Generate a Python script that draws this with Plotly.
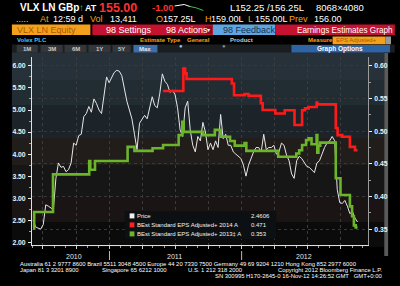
import plotly.graph_objects as go
import pandas as pd

# ---------------- data ----------------
price_start = "2010-06-04"
price_values = [2.50, 2.35, 2.32, 2.30, 2.40, 2.85, 2.82, 2.78, 2.74, 3.45,
                3.80, 3.70, 3.72, 3.60, 3.65, 3.80, 4.25, 4.20, 4.42, 4.45,
                4.85, 4.92, 5.08, 4.95, 5.25, 5.15, 5.00, 4.92, 5.40, 5.75,
                5.62, 5.75, 5.85, 5.90, 5.88, 5.78, 5.45, 5.20, 5.00, 4.80,
                4.45, 4.10, 4.70, 4.80, 4.88, 4.80, 5.05, 5.30, 5.10, 5.05,
                5.38, 5.82, 5.65, 5.58, 5.40, 5.45, 5.35, 5.05, 4.55, 4.40,
                5.05, 5.20, 4.55, 4.20, 4.05, 4.40, 4.30, 4.72, 4.50, 4.10,
                4.25, 4.10, 4.30, 4.15, 4.90, 4.35, 4.45, 4.20, 4.20, 4.05,
                4.00, 3.95, 3.90, 3.75, 3.50, 3.75, 3.90, 4.05, 4.15, 4.15,
                4.05, 4.45, 4.10, 4.15, 4.15, 4.20, 4.00, 4.05, 4.25, 4.20,
                3.98, 3.85, 3.55, 3.45, 3.85, 3.95, 3.90, 3.80, 3.72, 3.70,
                3.65, 3.58, 3.80, 3.85, 4.00, 4.15, 4.25, 4.30, 4.40, 4.30,
                3.20, 2.90, 2.88, 2.95, 2.82, 2.65, 2.70, 2.55, 2.4606]
price_dates = pd.date_range(price_start, periods=len(price_values), freq="7D")

eps2014_dates = ["2011-05-29", "2011-07-24", "2011-07-29", "2011-08-02", "2011-12-05",
                 "2011-12-11", "2012-01-09", "2012-01-20", "2012-02-23", "2012-02-28",
                 "2012-04-03", "2012-04-29", "2012-05-26", "2012-06-16", "2012-06-24",
                 "2012-07-04", "2012-07-26", "2012-07-28", "2012-09-17", "2012-09-22",
                 "2012-10-05", "2012-10-26", "2012-11-09", "2012-11-16"]
eps2014_values = [0.5614, 0.596, 0.5885, 0.5798, 0.573, 0.555, 0.557, 0.554, 0.5427, 0.5324,
                  0.527, 0.532, 0.5095, 0.532, 0.535, 0.537, 0.544, 0.541, 0.505, 0.494,
                  0.4916, 0.476, 0.471, 0.471]

eps2013_dates = ["2010-06-04", "2010-06-07", "2010-07-29", "2010-11-06", "2010-11-09",
                 "2010-11-22", "2011-02-20", "2011-03-11", "2011-04-30", "2011-05-29",
                 "2011-07-11", "2011-07-21", "2011-07-25", "2011-09-17", "2011-10-19",
                 "2011-11-04", "2011-11-30", "2011-12-13", "2012-01-09", "2012-01-14",
                 "2012-04-11", "2012-05-31", "2012-06-08", "2012-06-16", "2012-06-27",
                 "2012-07-04", "2012-07-12", "2012-07-26", "2012-07-28", "2012-07-31",
                 "2012-08-05", "2012-09-17", "2012-09-30", "2012-10-26", "2012-11-01",
                 "2012-11-06", "2012-11-11", "2012-11-16"]
eps2013_values = [0.3515, 0.3765, 0.434, 0.4545, 0.441, 0.4545, 0.476, 0.470, 0.474, 0.479,
                  0.494, 0.5145, 0.499, 0.494, 0.502, 0.4916, 0.485, 0.478, 0.482, 0.470,
                  0.461, 0.466, 0.471, 0.479, 0.4866, 0.489, 0.480, 0.494, 0.467, 0.478,
                  0.4825, 0.428, 0.4025, 0.385, 0.370, 0.356, 0.353, 0.353]

year_labels = ["2010", "2011", "2012"]
year_label_dates = ["2010-09-24", "2011-06-30", "2012-06-21"]
year_breaks = ["2011-01-01", "2012-01-01"]
quarter_ticks = ["2010-07-01", "2010-10-01", "2011-01-01", "2011-04-01", "2011-07-01",
                 "2011-10-01", "2012-01-01", "2012-04-01", "2012-07-01", "2012-10-01"]

legend_rows = [("Price", "2.4606", "#f0f0f0"),
               ("BEst Standard EPS Adjusted+ 2014 A", "0.471", "#ff1f1f"),
               ("BEst Standard EPS Adjusted+ 2013\u2021 A", "0.353", "#6cb52a")]

# ---------------- geometry helpers (pixel -> paper) ----------------
W, H = 400, 286
L, R, T, B = 21, 28, 57, 41
PW, PH = W - L - R, H - T - B


def X(px):
    return (px - L) / PW


def Y(py):
    return (H - B - py) / PH


SANS = "Liberation Sans"
ORANGE = "#f7a11a"
shapes = []
anns = []


def rect(x0, y0, x1, y1, color, layer="above", line=None):
    shapes.append(dict(type="rect", xref="paper", yref="paper", x0=X(x0), x1=X(x1),
                       y0=Y(y1), y1=Y(y0), fillcolor=color, layer=layer,
                       line=dict(width=0) if line is None else line))


def txt(s, x, y, color, size, anchor="left", bold=False, family=SANS):
    anns.append(dict(text=s, x=X(x), y=Y(y), xref="paper", yref="paper",
                     xanchor=anchor, yanchor="middle", showarrow=False, borderpad=0,
                     font=dict(color=color, size=size, family=family,
                               weight="bold" if bold else "normal")))


# ---------------- chart panel background bands ----------------
bands = [(52, 80, "#263139"), (80, 105, "#222c33"), (105, 138, "#1c242a"),
         (138, 165, "#211d1b"), (165, 197, "#161616"), (197, 222, "#1b1414"),
         (222, 247, "#0b0b0b")]
for y0, y1, c in bands:
    rect(0, y0, 389, y1, c, layer="below")
# right scroll strip
rect(389, 53, 393, 256, "#5a5a5a", layer="below")

# ---------------- header ----------------
# row 1
txt("VLX LN GBp", 7, 8, "#ffffff", 10, bold=True)
txt("\u2191", 69, 8, "#38c838", 10, bold=True)
txt("AT", 75, 8, "#ffffff", 9, bold=True)
txt("155.00", 90, 8, "#ff3030", 12.5, bold=True)
txt("-1.00", 145, 8, "#ff3030", 9.5, bold=True)
txt("L152.25 /156.25L", 227, 8, "#ffffff", 9.5)
txt("8068\u00d74080", 317, 8, "#ffffff", 9.5)
spark = "M %f,%f L %f,%f L %f,%f" % (X(170), Y(6), X(180), Y(4.5), X(186), Y(6.5))
shapes.append(dict(type="path", xref="paper", yref="paper", path=spark,
                   line=dict(color="#ffffff", width=1)))
spark2 = "M %f,%f L %f,%f L %f,%f" % (X(186), Y(6.5), X(193), Y(8), X(200), Y(10.5))
shapes.append(dict(type="path", xref="paper", yref="paper", path=spark2,
                   line=dict(color="#38c838", width=1)))
# row 2
for s, x, c in [(".....", 3, "#cccccc"), ("At", 28, ORANGE), ("12:59 d", 42, "#ffffff"),
                ("Vol", 81, ORANGE), ("13,411", 101, "#ffffff"), ("O", 149, ORANGE),
                ("157.25L", 157, "#ffffff"), ("H", 201, ORANGE), ("159.00L", 207, "#ffffff"),
                ("L", 246, ORANGE), ("155.00L", 253, "#ffffff"), ("Prev", 288, ORANGE),
                ("156.00", 315, "#ffffff")]:
    txt(s, x, 19, c, 9)
# row 3 bars
rect(0, 24.5, 82, 35, "#f5a01a")
txt("VLX LN Equity", 4, 30, "#a85a08", 9)
rect(84, 24.5, 210, 35, "#c41230")
rect(202, 26, 209, 34, "#8e0c22")
txt("\u25be", 205.5, 30, "#ffffff", 6, anchor="center")
txt("98 Settings", 97, 30, "#ffffff", 9)
txt("98 Actions", 160, 30, "#ffffff", 9)
rect(210, 24.5, 275, 35, "#5ea6e2")
txt("98 Feedback", 220, 30, "#16324f", 9)
rect(275, 24.5, 400, 35, "#c41230")
txt("Earnings Estimates Graph", 297, 30, "#ffffff", 8.2)
# row 4
txt("Volex PLC", 4, 40.5, "#55c2e6", 6, bold=True)
txt("Estimate Type", 133, 40.5, ORANGE, 6, bold=True)
anns.append(dict(text="\u25cf", x=X(177), y=Y(40.5), xref="paper", yref="paper",
                 showarrow=False, font=dict(color="#8fc8ff", size=6)))
txt("General", 182, 40.5, ORANGE, 6, bold=True)
anns.append(dict(text="\u25cf", x=X(222), y=Y(40.5), xref="paper", yref="paper",
                 showarrow=False, font=dict(color="#888888", size=6)))
txt("Product", 227, 40.5, "#c8c8c8", 6, bold=True)
txt("Measure", 308, 40.5, ORANGE, 6, bold=True)
rect(335, 36.5, 390, 44.5, "#f5a01a")
txt("EPS Adjusted+", 338, 40.5, "#a85a08", 6)
rect(390, 36.5, 396, 44.5, "#9a9a9a")
# row 5
rect(0, 44.5, 400, 52.5, "#1b1e21")
for lab, x0, x1 in [("1M", 5, 27), ("3M", 30, 53), ("6M", 55, 78), ("1Y", 80, 103),
                    ("5Y", 105, 124)]:
    rect(x0, 45, x1, 52.5, "#33373b")
    txt(lab, (x0 + x1) / 2, 48.8, "#c8c8c8", 6, anchor="center", bold=True)
rect(127, 45, 152, 52.5, "#3c6ea8")
txt("Max", 139.5, 48.8, "#e8e8e8", 6, anchor="center", bold=True)
rect(292, 45, 395, 52.5, "#2e63a4")
txt("Graph Options", 343, 48.8, "#ffffff", 6.5, anchor="center", bold=True)

# ---------------- legend box ----------------
rect(118, 211, 276, 239, "#0d1013")
for i, (name, val, col) in enumerate(legend_rows):
    yy = 216 + 9 * i
    rect(123, yy - 2.6, 128, yy + 2.4, col)
    txt(name, 130, yy, "#f2f2f2", 6.0)
    txt(val, 249, yy, "#f2f2f2", 6.0)

# ---------------- x axis labels & year breaks ----------------
for lab, d in zip(year_labels, year_label_dates):
    anns.append(dict(text=lab, x=d, xref="x", y=Y(256), yref="paper", showarrow=False,
                     yanchor="middle", font=dict(color="#e8e8e8", size=7, family=SANS)))
for d in year_breaks:
    shapes.append(dict(type="line", xref="x", yref="paper", x0=d, x1=d,
                       y0=Y(251), y1=Y(260), line=dict(color="#bbbbbb", width=1)))

# ---------------- footer ----------------
txt("Australia 61 2 9777 8600 Brazil 5511 3048 4500 Europe 44 20 7330 7500 "
    "Germany 49 69 9204 1210 Hong Kong 852 2977 6000", 7, 264, "#ffffff", 5.9)
txt("Japan 81 3 3201 8900", 7, 270, "#ffffff", 5.9)
txt("Singapore 65 6212 1000", 93, 270, "#ffffff", 5.9)
txt("U.S. 1 212 318 2000", 183, 270, "#ffffff", 5.9)
txt("Copyright 2012 Bloomberg Finance L.P.", 388, 270, "#ffffff", 5.9, anchor="right")
txt("SN 300995 H170-2645-0 16-Nov-12 14:26:52 GMT   GMT+0:00", 388, 276, "#ffffff", 5.9,
    anchor="right")

# ---------------- traces ----------------
fig = go.Figure()
fig.add_trace(go.Scatter(x=price_dates, y=price_values, mode="lines", name="Price",
                         line=dict(color="#e6e6e6", width=1), yaxis="y"))
fig.add_trace(go.Scatter(x=eps2014_dates, y=eps2014_values, mode="lines",
                         name="2014", line=dict(color="#ff1a1a", width=2.6, shape="hv"),
                         yaxis="y2"))
fig.add_trace(go.Scatter(x=eps2013_dates, y=eps2013_values, mode="lines",
                         name="2013", line=dict(color="#6cb52a", width=2.6, shape="hv"),
                         yaxis="y2"))

tickfont = dict(color="#f0f0f0", size=6.8, family=SANS, weight="bold")
fig.update_layout(
    width=W, height=H, margin=dict(l=L, r=R, t=T, b=B, pad=0),
    paper_bgcolor="#000000", plot_bgcolor="rgba(0,0,0,0)",
    showlegend=False,
    xaxis=dict(type="date", range=["2010-06-01", "2012-12-15"],
               tickvals=quarter_ticks, ticktext=[""] * len(quarter_ticks),
               showgrid=True, gridcolor="#3c3c3c", griddash="dot", gridwidth=1,
               ticks="outside", ticklen=3, tickcolor="#d0d0d0",
               minor=dict(dtick="M1", tick0="2010-01-01", ticks="outside", ticklen=2,
                          tickcolor="#a0a0a0", showgrid=False),
               showline=True, linecolor="#e0e0e0", linewidth=1, zeroline=False,
               fixedrange=True),
    yaxis=dict(range=[1.939, 6.202], tickvals=[2.0, 2.5, 3.0, 3.5, 4.0, 4.5, 5.0, 5.5, 6.0],
               tickformat=".2f", ticks="outside", ticklen=3, tickcolor="#f0f0f0",
               minor=dict(dtick=0.25, tick0=0, ticks="outside", ticklen=2,
                          tickcolor="#a0a0a0"),
               showgrid=False, zeroline=False, showline=True, linecolor="#e0e0e0",
               linewidth=1, tickfont=tickfont, ticklabelstandoff=1),
    yaxis2=dict(range=[0.326, 0.6135], overlaying="y", side="right",
                tick0=0.35, dtick=0.05, tickformat=".2f", ticks="outside", ticklen=3,
                tickcolor="#f0f0f0",
                minor=dict(dtick=0.025, tick0=0.35, ticks="outside", ticklen=2,
                           tickcolor="#a0a0a0"),
                showgrid=True, gridcolor="#383838", griddash="dot", gridwidth=1,
                zeroline=False, showline=True, linecolor="#9a9a9a", linewidth=1,
                tickfont=tickfont, ticklabelstandoff=1),
    shapes=shapes, annotations=anns,
)

fig.write_html("out.html", config={"displayModeBar": False})
